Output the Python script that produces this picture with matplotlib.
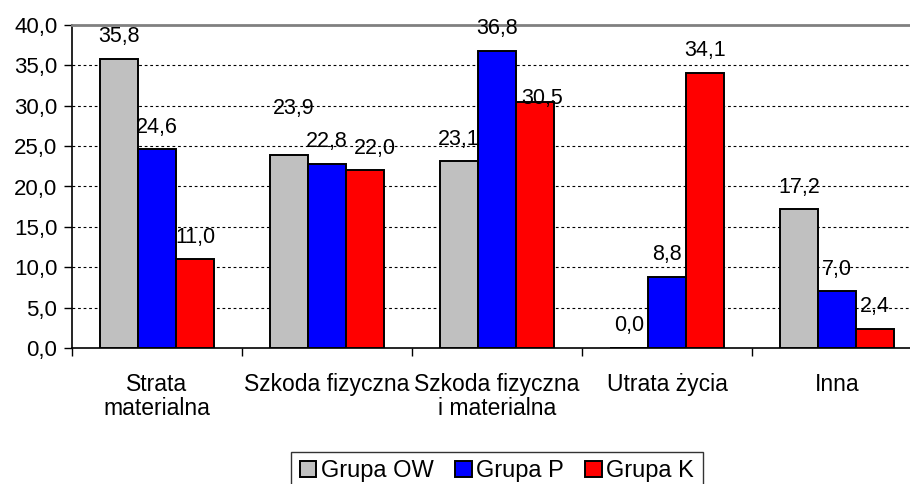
import numpy as np
import matplotlib
matplotlib.use("Agg")
import matplotlib.pyplot as plt
from matplotlib.patches import Patch

plt.rcParams['font.family'] = ['Liberation Sans', 'DejaVu Sans']
plt.rcParams['font.size'] = 15

categories = ["Strata\nmaterialna", "Szkoda fizyczna", "Szkoda fizyczna\ni materialna",
              "Utrata życia", "Inna"]
series_names = ["Grupa OW", "Grupa P", "Grupa K"]
grupa_ow = [35.8, 23.9, 23.1, 0.0, 17.2]
grupa_p = [24.6, 22.8, 36.8, 8.8, 7.0]
grupa_k = [11.0, 22.0, 30.5, 34.1, 2.4]
colors = ["#c0c0c0", "#0000ff", "#ff0000"]

# manual label nudges (pixels), keyed (category, series), where labels were moved
label_nudge = {(1, 0): (5, 25), (1, 2): (10, 0), (2, 2): (7, -19)}

fig = plt.figure(figsize=(9.1, 4.84), dpi=100)
ax = fig.add_axes([72 / 910, 136 / 484, 850 / 910, 323 / 484])

width = 0.224
x = np.arange(len(categories)) + 0.5
for k, (vals, col) in enumerate(zip([grupa_ow, grupa_p, grupa_k], colors)):
    pos = x + (k - 1) * width
    ax.bar(pos, vals, width, color=col, edgecolor="black", linewidth=1.4, zorder=3)
    for i, v in enumerate(vals):
        dx, dy = label_nudge.get((i, k), (0, 0))
        ax.annotate(f"{v:.1f}".replace(".", ","), (pos[i], v),
                    xytext=(dx, 22 + dy), textcoords="offset pixels",
                    ha="center", va="center", zorder=4, fontsize=15.5)

ax.set_xlim(0, 5)
ax.set_ylim(0, 40)
ax.set_yticks(np.arange(0, 41, 5))
ax.set_yticklabels([f"{t:.1f}".replace(".", ",") for t in np.arange(0, 41, 5)],
                   fontsize=16)
for t in np.arange(5, 40, 5):
    ax.axhline(t, color="black", linestyle=(0, (2.5, 2.5)), linewidth=0.8, zorder=1)

ax.set_xticks(np.arange(0, 6))
ax.set_xticklabels([])
ax.set_xticks(x, minor=True)
ax.set_xticklabels(categories, minor=True, linespacing=1.05, fontsize=16.5)
ax.tick_params(axis="x", which="minor", length=0, pad=18)
ax.tick_params(axis="x", which="major", length=5.5, width=1, direction="out")
ax.tick_params(axis="y", length=5.5, width=1, pad=5)

ax.spines["right"].set_visible(False)
ax.spines["top"].set_color("#808080")
ax.spines["top"].set_linewidth(2)
ax.spines["left"].set_linewidth(1.2)
ax.spines["bottom"].set_linewidth(1.2)

handles = [Patch(facecolor=c, edgecolor="black", linewidth=1.4) for c in colors]
leg = fig.legend(handles, series_names, loc="upper center",
                 bbox_to_anchor=(497 / 910, 1 - 452 / 484), ncol=3,
                 frameon=True, fancybox=False, edgecolor="black", fontsize=17,
                 handlelength=0.7, handleheight=0.7, handletextpad=0.2,
                 columnspacing=0.9, borderpad=0.35, borderaxespad=0)
leg.get_frame().set_linewidth(1.0)

fig.savefig("out.png", dpi=100)
